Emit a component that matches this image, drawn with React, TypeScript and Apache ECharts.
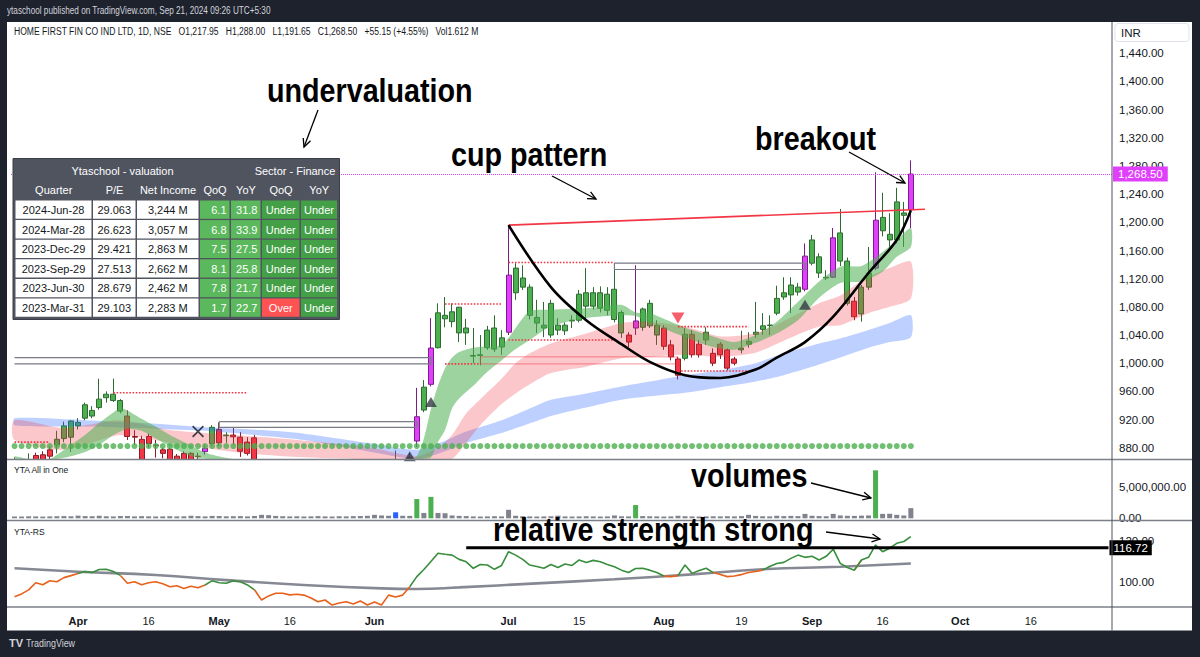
import React, { useEffect, useRef } from 'react';
import * as echarts from 'echarts';

const FONT = '"Liberation Sans", Arial, Helvetica, sans-serif';

// ---------- calendar ----------
const sessionStart = '2024-03-15';
const sessionCount = 156;
const marketHolidays = ['2024-03-25', '2024-03-29', '2024-04-11', '2024-04-17', '2024-05-01', '2024-05-20', '2024-06-17', '2024-07-17', '2024-08-15', '2024-10-02'];
const specialSessions = ['2024-05-18'];

const xTickDates = ['2024-04-01', '2024-04-16', '2024-05-02', '2024-05-16', '2024-06-03', '2024-07-01', '2024-07-15', '2024-08-01', '2024-08-19', '2024-09-02', '2024-09-16', '2024-10-01', '2024-10-16'];
const xTickLabels = ['Apr', '16', 'May', '16', 'Jun', 'Jul', '15', 'Aug', '19', 'Sep', '16', 'Oct', '16'];

const priceTicks = [880, 920, 960, 1000, 1040, 1080, 1120, 1160, 1200, 1240, 1280, 1320, 1360, 1400, 1440];
const volumeTicks = [0, 5000000];
const rsTicks = [100, 120];

// ---------- OHLC (daily) ----------
const opens = [
  860, 852, 856, 869, 870, 877, 884, 893, 895, 911,
  922, 925, 937, 951, 947, 932, 925, 896, 892, 896,
  884, 877, 878, 868, 872, 872, 868, 874.5, 886, 906,
  897, 898, 895, 888, 894, 858, 848, 852, 846, 840,
  846, 842, 845, 836, 842, 835, 830, 834, 828, 822,
  828, 836, 842, 815, 835, 856, 852, 889.5, 933.5, 970,
  1022, 1063, 1059, 1043, 1043, 1010, 1011, 1022, 1020, 1023,
  1044, 1100, 1108, 1068, 1057, 1050, 1040, 1047, 1046, 1060,
  1061, 1081, 1081, 1078, 1075, 1062, 1043, 1040, 1050, 1051,
  1053, 1040, 1050, 1026, 1006, 1007, 1041, 1027, 1033, 1014,
  1027, 1019, 1006, 1019, 1027, 1041, 1048, 1053.5, 1071, 1094,
  1097, 1101, 1105, 1142, 1128, 1121, 1122, 1145, 1085, 1088,
  1070, 1108, 1135, 1188, 1175, 1175, 1210, 1217.95,
];
const highs = [
  866, 864, 872, 873, 875, 882, 904, 917, 919, 922,
  944, 939, 978, 960, 978, 949, 933, 905, 897, 900,
  891, 880, 880, 871, 875, 874, 873, 884, 912, 916,
  902, 909, 902, 895, 898, 862, 856, 858, 853, 850,
  852, 848, 850, 845, 848, 842, 838, 840, 836, 832,
  838, 848, 846, 840, 876, 862, 873, 965, 976, 1064,
  1085, 1094, 1085, 1080, 1063, 1050, 1040, 1053, 1068, 1047,
  1196, 1142, 1139, 1112, 1090, 1087, 1090, 1064, 1058, 1068,
  1104, 1135, 1108, 1109, 1108, 1142, 1075, 1044, 1139, 1079,
  1090, 1061, 1054, 1033, 1009, 1050, 1047, 1033, 1051, 1021,
  1030, 1021, 1009, 1046, 1044, 1087, 1071, 1068, 1110, 1122,
  1122, 1114, 1170, 1182, 1156, 1132, 1192, 1219, 1150, 1094,
  1111, 1165, 1271, 1242, 1213, 1249, 1229, 1288,
];
const lows = [
  848, 842, 850, 855, 856, 864, 872, 888, 874, 906,
  919, 922, 934, 944, 945, 929, 891, 884, 855, 880,
  866, 865, 858, 855, 856, 858, 862, 870, 882, 882,
  887, 884, 867, 869, 852, 845, 840, 843, 835, 834,
  838, 836, 832, 830, 833, 826, 822, 825, 818, 815,
  822, 830, 790, 810, 828, 842, 848, 881, 930.5, 967,
  1021, 1051, 1051, 1030, 1026, 1000, 997, 1019, 1016, 1012,
  1040, 1090, 1104, 1062, 1043, 1037, 1036, 1040, 1040, 1050,
  1058, 1061, 1076, 1072, 1068, 1058, 1036, 1023, 1040, 1046,
  1050, 1026, 1019, 1004, 977, 1004, 1008, 1008, 1026, 996,
  1006, 990, 997, 1014, 1022, 1036, 1040, 1040, 1068, 1090,
  1071, 1096, 1102, 1139, 1121, 1118, 1121, 1138, 1082, 1061,
  1059, 1104, 1132, 1180, 1165, 1170, 1165, 1191.65,
];
const closes = [
  852, 858, 862, 860, 862, 868, 892, 911, 918, 916,
  941, 933, 949, 956, 956, 947, 896, 895, 860, 886,
  883, 872, 862, 858, 860, 862, 867.5, 879, 909, 887,
  898, 895.5, 875, 872, 858, 848, 852, 846, 840, 846,
  842, 845, 836, 842, 835, 830, 834, 828, 822, 828,
  834, 842, 815, 835, 856, 850, 866, 924, 966, 1021.5,
  1071.5, 1068, 1073, 1079.5, 1050, 1011, 1012, 1047, 1050, 1036,
  1125, 1135, 1121, 1108, 1065, 1054, 1085, 1054, 1054, 1061,
  1098, 1100, 1100, 1100, 1098, 1105, 1072, 1030, 1060, 1077,
  1085, 1054, 1024, 1009, 983, 1041, 1012, 1012, 1044, 1000,
  1012, 993, 1000, 1021.5, 1031, 1044, 1053, 1054.2, 1092, 1100,
  1111, 1108, 1152, 1175, 1151, 1122, 1178, 1185, 1145, 1066,
  1108, 1128, 1203, 1207, 1183, 1229, 1213.35, 1268.5,
];
const magentaBars = [27, 57, 59, 70, 88, 112, 116, 122, 127];

// ---------- volume (millions) ----------
const volumesM = [
  0.30, 0.28, 0.32, 0.30, 0.27, 0.30, 0.33, 0.35, 0.32, 0.42,
  0.35, 0.33, 0.40, 0.32, 0.30, 0.36, 0.38, 0.30, 0.34, 0.31,
  0.29, 0.30, 0.33, 0.30, 0.32, 0.40, 0.35, 0.30, 0.38, 0.36,
  0.31, 0.33, 0.35, 0.30, 0.37, 0.55, 0.50, 0.38, 0.33, 0.30,
  0.32, 0.29, 0.31, 0.35, 0.30, 0.28, 0.33, 0.30, 0.34, 0.36,
  0.40, 0.55, 0.45, 0.40, 0.95, 0.40, 0.38, 3.05, 0.85, 3.40,
  0.85, 0.80, 0.45, 0.38, 0.35, 0.30, 0.28, 0.30, 0.33, 0.30,
  1.35, 0.40, 0.33, 0.30, 0.28, 0.30, 0.32, 0.42, 0.30, 0.28,
  0.30, 0.33, 0.30, 0.28, 0.30, 0.45, 0.32, 0.30, 2.10, 0.35,
  0.32, 0.30, 0.28, 0.30, 0.40, 0.33, 0.30, 0.28, 0.30, 0.32,
  0.30, 0.33, 0.30, 0.35, 0.55, 0.38, 0.32, 0.30, 0.40, 0.35,
  0.38, 0.35, 0.70, 0.40, 0.35, 0.33, 0.70, 0.45, 0.40, 0.38,
  0.42, 0.45, 7.60, 0.70, 0.72, 0.55, 0.45, 1.612,
];
const greenVolumeBars = [57, 59, 88, 122];
const blueVolumeBars = [54];

// ---------- relative strength ----------
const rsValues = [
  92.6, 94, 96, 99.5, 98.5, 100.5, 100, 102, 103, 104,
  105, 104.5, 106, 106.1, 105, 103.1, 99.2, 100, 98.5, 99.5,
  100, 99, 97.5, 98, 96.7, 97.8, 97, 98.4, 100.5, 99.5,
  99.2, 100.5, 100, 98.4, 96, 91, 93, 94.3, 94.3, 93.5,
  93.8, 93.4, 92, 90.1, 91, 88.5, 89.5, 90.1, 89, 90.5,
  88.5, 90, 88.5, 93.4, 92.5, 93.4, 97.5, 102.5, 106, 110,
  114, 113.5, 113.1, 111, 109.8, 106.6, 108.5, 108.2, 106.1, 108,
  114.8, 113.1, 111, 108.2, 107.5, 106.6, 108.5, 107, 108.7, 108,
  110.7, 109.5, 110.5, 109.8, 108.5, 107.4, 105.7, 104.5, 106.5, 106.6,
  105.7, 104.5, 102.8, 102.5, 103, 108.2, 104.1, 105.5, 106.6, 104.5,
  103.5, 102.5, 102.8, 103.5, 104.5, 105, 105.7, 107.5, 109, 109.5,
  111.5, 113.1, 112, 112.5, 110.7, 112.5, 116, 109, 107, 105.7,
  110.7, 112, 118.1, 114.8, 116.5, 118.9, 119.8, 122.2,
];
const rsGreenRanges = [[9, 14], [27, 33], [56, 91], [94, 98], [106, 118], [120, 127]];
const rsMaIdx = [0, 9, 20, 30, 41, 52, 57, 63, 74, 85, 96, 106, 117, 127];
const rsMaVals = [106.6, 104.9, 103.3, 100.8, 98.4, 96.7, 96.4, 97.2, 99.2, 101.2, 103.6, 106.1, 107.4, 109.0];
const rsLevel = 116.72;
const rsLevelFrom = 64;

// ---------- moving-average clouds (read at sample bars) ----------
const greenBandIdx = [0, 2, 5, 6, 8, 10, 12, 14, 15, 16, 18, 20, 22, 24, 26, 28, 31, 36, 45, 52, 56, 57, 58, 59, 60, 61, 62, 63, 65, 67, 69, 70, 71, 73, 76, 81, 86, 88, 90, 93, 96, 99, 102, 105, 108, 111, 114, 117, 120, 123, 125, 127];
const greenBandLo = [850, 845, 850, 864, 868, 874, 884, 898, 903, 907, 904, 893, 882, 872, 865, 858, 852, 842, 830, 826, 838, 858, 862, 866, 888, 905, 936, 950, 968, 988, 1004, 1012, 1020, 1033, 1052, 1064, 1068, 1067, 1057, 1045, 1033, 1023, 1019, 1029, 1042, 1061, 1093, 1114, 1116, 1130, 1151, 1165];
const greenBandHi = [868, 862, 864, 870, 884, 898, 915, 930, 936, 933, 921, 910, 898, 888, 878, 870, 864, 855, 842, 838, 852, 868, 893, 935, 968, 993, 1008, 1016, 1022, 1024, 1026, 1036, 1050, 1074, 1076, 1078, 1083, 1072, 1071, 1059, 1047, 1038, 1030, 1040, 1059, 1087, 1116, 1137, 1138, 1158, 1175, 1192];
const redBandIdx = [0, 7, 15, 22, 31, 40, 50, 57, 60, 62, 64, 66, 69, 71, 73, 76, 81, 86, 90, 95, 100, 105, 109, 114, 117, 119, 121, 124, 127];
const redBandLo = [891, 877, 898, 887, 874, 867, 860, 846, 845, 856, 887, 912, 942, 957, 970, 986, 995, 1007, 1009, 1012, 1009, 1015, 1032, 1052, 1054, 1062, 1071, 1080, 1092];
const redBandHi = [919, 908, 919, 905, 898, 891, 881, 868, 880, 898, 929, 949, 978, 1000, 1014, 1028, 1042, 1057, 1059, 1052, 1038, 1043, 1060, 1085, 1096, 1110, 1123, 1135, 1144];
const blueBandIdx = [0, 10, 20, 27, 35, 41, 50, 57, 61, 64, 69, 74, 76, 81, 86, 90, 95, 100, 105, 109, 114, 117, 121, 124, 127];
const blueBandLo = [912, 910, 907, 904, 897, 891, 875, 864, 875, 887, 901, 918, 925, 937, 948, 953, 958, 966, 974, 983, 998, 1008, 1022, 1030, 1037];
const blueBandHi = [922, 919, 914, 909, 905, 900, 887, 877, 890, 903, 919, 940, 948, 957, 967, 974, 983, 990, 1000, 1014, 1028, 1035, 1047, 1057, 1068];
const trendDotLevel = 882.4;

// ---------- chart drawings (bar index, price) ----------
const cupCurve = [[70, 1196], [76, 1108], [81, 1061], [86, 1027], [90, 1002], [95, 983], [100, 979], [105, 991], [108, 1008], [112, 1030], [116, 1066], [121, 1128], [125, 1175], [127, 1217]];
const rimLine = [[70, 1196], [129, 1218.5]];
const pivotLevels = [[0, 5, 888], [14, 33, 958], [61, 69, 1084], [61, 66, 999], [70, 85, 1143], [70, 85, 1033], [94, 104, 1052], [94, 104, 989]];
const greyBoxes = [[29, 57, 909, 917], [85, 112, 1133, 1142]];
const openGreyBox = [0, 59, 999, 1008];
const redBox = [66, 94, 999, 1009];
const upSignals = [[56, 868], [59, 945], [112, 1083]];
const downSignals = [[94, 1064]];
const crossSignals = [[26, 903]];

// ---------- valuation table ----------
const quarters = ['2024-Jun-28', '2024-Mar-28', '2023-Dec-29', '2023-Sep-29', '2023-Jun-30', '2023-Mar-31'];
const peRatios = [29.063, 26.623, 29.421, 27.513, 28.679, 29.103];
const netIncomeM = [3244, 3057, 2863, 2662, 2462, 2283];
const qoqGrowth = [6.1, 6.8, 7.5, 8.1, 7.8, 1.7];
const yoyGrowth = [31.8, 33.9, 27.5, 25.8, 21.7, 22.7];
const sectorQoQ = ['Under', 'Under', 'Under', 'Under', 'Under', 'Over'];
const sectorYoY = ['Under', 'Under', 'Under', 'Under', 'Under', 'Under'];

function buildSessions(): string[] {
  const out: string[] = [];
  const [y, m, d] = sessionStart.split('-').map(Number);
  const cur = new Date(Date.UTC(y, m - 1, d));
  while (out.length < sessionCount) {
    const s = cur.toISOString().slice(0, 10);
    const wd = cur.getUTCDay();
    if ((wd !== 0 && wd !== 6 && !marketHolidays.includes(s)) || specialSessions.includes(s)) out.push(s);
    cur.setUTCDate(cur.getUTCDate() + 1);
  }
  return out;
}

const fmt2 = (v: number) => v.toLocaleString('en-US', { minimumFractionDigits: 2, maximumFractionDigits: 2 });

function bandSeries(idx: number[], lo: number[], hi: number[], color: string, z: number) {
  return {
    type: 'custom',
    xAxisIndex: 0,
    yAxisIndex: 0,
    z,
    silent: true,
    clip: true,
    data: idx.map((x, k) => [x, lo[k], hi[k]]),
    encode: { x: 0, y: [1, 2] },
    renderItem: (params: any, api: any) => {
      if (params.dataIndex !== 0) return null;
      const cs = params.coordSys;
      const top = idx.map((x, k) => api.coord([x, hi[k]]));
      const bot = idx.map((x, k) => api.coord([x, lo[k]])).reverse();
      const pts = top.concat(bot).map((p: number[]) => [p[0], Math.max(cs.y, Math.min(cs.y + cs.height, p[1]))]);
      return { type: 'polygon', shape: { points: pts, smooth: 0.25 }, style: { fill: color } };
    },
  };
}

function arrowEls(x1: number, y1: number, x2: number, y2: number) {
  const a = Math.atan2(y2 - y1, x2 - x1);
  const L = 9;
  const w = 0.45;
  const p1 = [x2 - L * Math.cos(a - w), y2 - L * Math.sin(a - w)];
  const p2 = [x2 - L * Math.cos(a + w), y2 - L * Math.sin(a + w)];
  return [
    { type: 'line', z: 100, silent: true, shape: { x1, y1, x2, y2 }, style: { stroke: '#000', lineWidth: 1.3 } },
    { type: 'polyline', z: 100, silent: true, shape: { points: [p1, [x2, y2], p2] }, style: { stroke: '#000', lineWidth: 1.3, fill: null } },
  ];
}

function txt(x: number, y: number, text: string, opts: any = {}) {
  const align = opts.align || 'left';
  const va = opts.va || 'middle';
  return {
    type: 'text',
    z: opts.z ?? 100,
    x,
    y,
    scaleX: opts.scaleX ?? 1,
    silent: true,
    style: {
      text,
      x: 0,
      y: 0,
      fill: opts.color || '#131722',
      fontSize: opts.size || 11,
      fontWeight: opts.weight || 'normal',
      fontFamily: opts.family || FONT,
      align,
      textAlign: align,
      verticalAlign: va,
      textVerticalAlign: va,
    },
  };
}

function buildOption() {
  const dates = buildSessions();
  const xTickMap = new Map(xTickDates.map((d, k) => [d, xTickLabels[k]]));
  const n = closes.length;
  const MAGENTA = '#e040fb';

  const candleData = opens.map((o, i) => {
    const item: any = { value: [o, closes[i], lows[i], highs[i]] };
    if (magentaBars.includes(i)) {
      item.itemStyle = { color: MAGENTA, color0: MAGENTA, borderColor: '#7a1d8a', borderColor0: '#7a1d8a' };
    }
    return item;
  });

  const volData = volumesM.map((v, i) => ({
    value: v * 1e6,
    itemStyle: { color: greenVolumeBars.includes(i) ? '#4caf50' : blueVolumeBars.includes(i) ? '#2962ff' : '#80838d' },
  }));

  const inGreen = (i: number) => rsGreenRanges.some(([a, b]) => i >= a && i <= b);
  const rsGreen = rsValues.map((v, i) => (inGreen(i) || (i > 0 && inGreen(i - 1)) ? v : null));
  const rsOrange = rsValues.map((v, i) => (!inGreen(i) || (i > 0 && !inGreen(i - 1)) ? v : null));

  const lineSeries = (data: any[], color: string, width: number, type: any = 'solid', extra: any = {}) => ({
    type: 'line',
    xAxisIndex: 0,
    yAxisIndex: 0,
    data,
    symbol: 'none',
    silent: true,
    z: 4,
    lineStyle: { color, width, type },
    ...extra,
  });

  const drawings: any[] = [];
  pivotLevels.forEach(([a, b, p]) => drawings.push(lineSeries([[a, p], [b, p]], '#f23645', 1.6, 'dotted')));
  greyBoxes.forEach(([a, b, lo, hi]) => drawings.push(lineSeries([[a, hi], [b, hi], [b, lo], [a, lo], [a, hi]], '#787b86', 1.2)));
  drawings.push(lineSeries([[openGreyBox[0], openGreyBox[3]], [openGreyBox[1], openGreyBox[3]], [openGreyBox[1], openGreyBox[2]], [openGreyBox[0], openGreyBox[2]]], '#787b86', 1.2));
  drawings.push(lineSeries([[redBox[0], redBox[3]], [redBox[1], redBox[3]], [redBox[1], redBox[2]], [redBox[0], redBox[2]], [redBox[0], redBox[3]]], 'rgba(242,54,69,0.55)', 1));
  drawings.push(lineSeries(rimLine, '#f23645', 1.6));
  drawings.push(lineSeries(cupCurve, '#000000', 2.6, 'solid', { smooth: 0.35 }));

  const xAxes = [0, 1, 2].map((g) => ({
    type: 'category',
    gridIndex: g,
    data: dates,
    boundaryGap: true,
    axisLine: { show: false },
    axisTick: { show: false },
    splitLine: { show: false },
    axisPointer: { show: false },
    axisLabel:
      g === 2
        ? {
            show: true,
            interval: (_i: number, val: string) => xTickMap.has(val),
            formatter: (val: string) => {
              const t = xTickMap.get(val) || '';
              return /^\d/.test(t) ? `{d|${t}}` : `{m|${t}}`;
            },
            margin: 8,
            rich: {
              m: { fontWeight: 'bold', fontSize: 11, color: '#131722', fontFamily: FONT },
              d: { fontSize: 11, color: '#131722', fontFamily: FONT },
            },
          }
        : { show: false },
  }));

  const yAxisBase = {
    type: 'value',
    position: 'right',
    splitLine: { show: false },
    axisLine: { show: false },
    axisTick: { show: false },
  };

  const lastI = n - 1;
  const chg = closes[lastI] - closes[lastI - 1];
  const pct = (chg / closes[lastI - 1]) * 100;
  const legend = `HOME FIRST FIN CO IND LTD, 1D, NSE   O${fmt2(opens[lastI])}   H${fmt2(highs[lastI])}   L${fmt2(lows[lastI])}   C${fmt2(closes[lastI])}   +${fmt2(chg)} (+${pct.toFixed(2)}%)   Vol${volumesM[lastI].toFixed(3)} M`;

  // table
  const tCols = [15, 92.5, 136.5, 199.5, 230.5, 261.5, 300.5, 338];
  const tHeaders = ['Quarter', 'P/E', 'Net Income', 'QoQ', 'YoY', 'QoQ', 'YoY'];
  const rowTop = (r: number) => 200.5 + r * 19.6;
  const tableEls: any[] = [
    { type: 'rect', z: 100, silent: true, shape: { x: 13, y: 158.5, width: 326.5, height: 161 }, style: { fill: '#50545f', stroke: '#3b3e48', lineWidth: 1 } },
    txt(122.5, 171, 'Ytaschool - valuation', { color: '#ffffff', size: 11, align: 'center', z: 101 }),
    txt(295, 171, 'Sector - Finance', { color: '#ffffff', size: 11, align: 'center', z: 101 }),
  ];
  tHeaders.forEach((h, c) => tableEls.push(txt((tCols[c] + tCols[c + 1]) / 2, 190, h, { color: '#ffffff', size: 11, align: 'center', z: 101 })));
  quarters.forEach((q, r) => {
    const cells = [q, peRatios[r].toFixed(3), `${netIncomeM[r].toLocaleString('en-US')} M`, qoqGrowth[r].toFixed(1), yoyGrowth[r].toFixed(1), sectorQoQ[r], sectorYoY[r]];
    cells.forEach((val, c) => {
      const x0 = tCols[c] + 0.5;
      const w = tCols[c + 1] - tCols[c] - 1.5;
      const y0 = rowTop(r);
      let fill = '#ffffff';
      let color = '#131722';
      if (c === 3 || c === 4) { fill = '#5cb85c'; color = '#ffffff'; }
      if (c >= 5) { fill = val === 'Over' ? '#ff5252' : '#43a047'; color = '#ffffff'; }
      tableEls.push({ type: 'rect', z: 101, silent: true, shape: { x: x0, y: y0, width: w, height: 18.3 }, style: { fill } });
      if (c === 3 || c === 4) tableEls.push(txt(x0 + w - 3, y0 + 9.4, val, { color, size: 11, align: 'right', z: 102 }));
      else tableEls.push(txt(x0 + w / 2, y0 + 9.4, val, { color, size: 11, align: 'center', z: 102 }));
    });
  });

  const bigFont = { size: 33, weight: 'bold', scaleX: 0.87, color: '#000000' };

  const graphicEls: any[] = [
    { type: 'rect', z: -10, silent: true, shape: { x: 7, y: 22, width: 1185, height: 608.5 }, style: { fill: '#ffffff' } },
    // masks the lower panes so price marks stay inside the price pane
    { type: 'rect', z: 2.5, silent: true, shape: { x: 7, y: 460, width: 1104.5, height: 146.5 }, style: { fill: '#ffffff' } },
    txt(7, 11, 'ytaschool published on TradingView.com, Sep 21, 2024 09:26 UTC+5:30', { color: '#d1d4dc', size: 10, scaleX: 0.82 }),
    txt(14, 31.5, legend, { color: '#131722', size: 11, scaleX: 0.78 }),
    { type: 'rect', z: 100, silent: true, shape: { x: 1115, y: 23.5, width: 74, height: 18, r: 3 }, style: { fill: '#ffffff', stroke: '#e0e3eb', lineWidth: 1 } },
    txt(1121, 32.5, 'INR', { size: 11.5 }),
    // pane separators
    { type: 'line', z: 50, silent: true, shape: { x1: 7, y1: 459.5, x2: 1192, y2: 459.5 }, style: { stroke: '#7c7f89', lineWidth: 1.5 } },
    { type: 'line', z: 50, silent: true, shape: { x1: 7, y1: 520.5, x2: 1192, y2: 520.5 }, style: { stroke: '#7c7f89', lineWidth: 1.5 } },
    { type: 'line', z: 50, silent: true, shape: { x1: 7, y1: 607, x2: 1192, y2: 607 }, style: { stroke: '#7c7f89', lineWidth: 1.5 } },
    { type: 'line', z: 50, silent: true, shape: { x1: 1112, y1: 22, x2: 1112, y2: 630.5 }, style: { stroke: '#50535e', lineWidth: 1 } },
    txt(14, 470, 'YTA All in One', { size: 9.5, scaleX: 0.9 }),
    txt(14, 532, 'YTA-RS', { size: 9.5, scaleX: 0.9 }),
    // annotations
    txt(267, 90.5, 'undervaluation', bigFont),
    txt(451, 155, 'cup pattern', bigFont),
    txt(755, 138.5, 'breakout', bigFont),
    txt(691, 476, 'volumes', bigFont),
    txt(493, 530, 'relative strength strong', bigFont),
    ...arrowEls(318, 110, 304, 147),
    ...arrowEls(552, 176, 596, 199),
    ...arrowEls(849, 152, 905, 183),
    ...arrowEls(811, 483, 871, 498),
    ...arrowEls(826, 532, 880, 539),
    ...tableEls,
    // footer logo
    txt(9, 643, 'TV', { color: '#d1d4dc', size: 11, weight: 'bold' }),
    txt(26, 643, 'TradingView', { color: '#d1d4dc', size: 10.5, scaleX: 0.85 }),
  ];

  return {
    animation: false,
    backgroundColor: '#1e222d',
    textStyle: { fontFamily: FONT },
    grid: [
      { left: 11, top: 22, width: 1101, height: 437 },
      { left: 11, top: 461, width: 1101, height: 57.3 },
      { left: 11, top: 521, width: 1101, height: 86 },
    ],
    xAxis: xAxes,
    yAxis: [
      {
        ...yAxisBase,
        gridIndex: 0,
        min: 864.0,
        max: 1484.4,
        axisLabel: { customValues: priceTicks, formatter: (v: number) => fmt2(v), color: '#131722', fontSize: 11.5, margin: 7, fontFamily: FONT },
      },
      {
        ...yAxisBase,
        gridIndex: 1,
        min: 0,
        max: 9.08e6,
        axisLabel: { customValues: volumeTicks, formatter: (v: number) => fmt2(v), color: '#131722', fontSize: 11.5, margin: 7, fontFamily: FONT },
      },
      {
        ...yAxisBase,
        gridIndex: 2,
        min: 87.54,
        max: 129.9,
        axisLabel: { customValues: rsTicks, formatter: (v: number) => fmt2(v), color: '#131722', fontSize: 11.5, margin: 7, fontFamily: FONT },
      },
    ],
    series: [
      {
        type: 'candlestick',
        xAxisIndex: 0,
        yAxisIndex: 0,
        data: candleData,
        barWidth: 5.5,
        z: 2,
        clip: true,
        silent: true,
        itemStyle: { color: '#4caf50', color0: '#f23645', borderColor: '#2e6b31', borderColor0: '#8e1b24', borderWidth: 1 },
        markLine: {
          silent: true,
          symbol: 'none',
          data: [{ yAxis: closes[lastI] }],
          lineStyle: { color: MAGENTA, type: 'dotted', width: 1 },
          label: {
            show: true,
            position: 'end',
            distance: 1,
            formatter: () => fmt2(closes[lastI]),
            color: '#ffffff',
            backgroundColor: MAGENTA,
            padding: [2, 5, 1, 5],
            fontSize: 11.5,
            fontFamily: FONT,
          },
        },
      },
      bandSeries(blueBandIdx, blueBandLo, blueBandHi, 'rgba(41,98,255,0.30)', 3),
      bandSeries(redBandIdx, redBandLo, redBandHi, 'rgba(242,54,69,0.28)', 3),
      bandSeries(greenBandIdx, greenBandLo, greenBandHi, 'rgba(76,175,80,0.55)', 3),
      ...drawings,
      {
        type: 'scatter',
        xAxisIndex: 0,
        yAxisIndex: 0,
        z: 6,
        silent: true,
        symbol: 'circle',
        symbolSize: 6,
        itemStyle: { color: '#4caf50' },
        data: closes.map((_c, i) => [i, trendDotLevel]),
      },
      {
        type: 'scatter', xAxisIndex: 0, yAxisIndex: 0, z: 7, silent: true,
        symbol: 'triangle', symbolSize: [12, 10], itemStyle: { color: '#363a45' }, data: upSignals,
      },
      {
        type: 'scatter', xAxisIndex: 0, yAxisIndex: 0, z: 7, silent: true,
        symbol: 'triangle', symbolRotate: 180, symbolSize: [13, 11], itemStyle: { color: '#f23645' }, data: downSignals,
      },
      {
        type: 'scatter', xAxisIndex: 0, yAxisIndex: 0, z: 7, silent: true,
        symbol: 'path://M0,1 L1,0 L5,4 L9,0 L10,1 L6,5 L10,9 L9,10 L5,6 L1,10 L0,9 L4,5 Z',
        symbolSize: 12, itemStyle: { color: '#131722' }, data: crossSignals,
      },
      // volume
      {
        type: 'bar',
        xAxisIndex: 1,
        yAxisIndex: 1,
        data: volData,
        barWidth: 5,
        z: 5,
        silent: true,
      },
      // RS pane
      {
        type: 'line', xAxisIndex: 2, yAxisIndex: 2, silent: true, symbol: 'none', smooth: 0.5, z: 5,
        data: rsMaIdx.map((x, k) => [x, rsMaVals[k]]),
        lineStyle: { color: '#868993', width: 2.6 },
      },
      {
        type: 'line', xAxisIndex: 2, yAxisIndex: 2, silent: true, symbol: 'none', z: 6,
        data: rsOrange, lineStyle: { color: '#e8611a', width: 1.6 },
      },
      {
        type: 'line', xAxisIndex: 2, yAxisIndex: 2, silent: true, symbol: 'none', z: 6,
        data: rsGreen, lineStyle: { color: '#388e3c', width: 1.6 },
      },
      {
        type: 'line', xAxisIndex: 2, yAxisIndex: 2, silent: true, symbol: 'none', z: 7,
        data: [[rsLevelFrom, rsLevel], [sessionCount - 1, rsLevel]],
        lineStyle: { color: '#000000', width: 3 },
        endLabel: {
          show: true,
          formatter: () => rsLevel.toFixed(2),
          color: '#ffffff',
          backgroundColor: '#000000',
          padding: [2, 4, 1, 4],
          fontSize: 11.5,
          fontFamily: FONT,
          distance: 1,
        },
      },
    ],
    graphic: { elements: graphicEls },
  };
}

export default function App() {
  const ref = useRef<HTMLDivElement>(null);
  useEffect(() => {
    if (!ref.current) return;
    const chart = echarts.init(ref.current, undefined, { renderer: 'svg' });
    chart.setOption(buildOption() as any);
    return () => chart.dispose();
  }, []);
  return <div ref={ref} style={{ position: 'fixed', left: 0, top: 0, width: 1200, height: 657 }} />;
}
